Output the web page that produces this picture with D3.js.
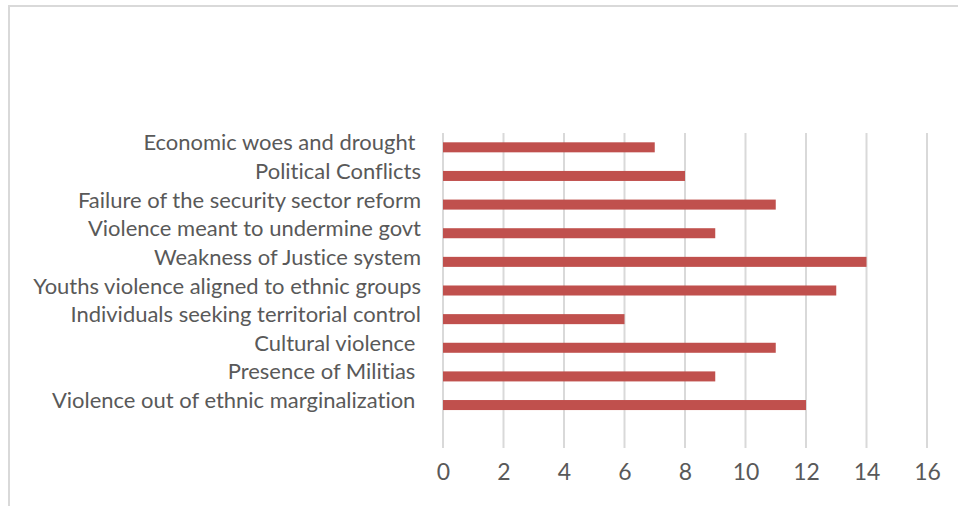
<!DOCTYPE html>
<html><head><meta charset="utf-8">
<script src="https://cdn.jsdelivr.net/npm/d3@7"></script>
<style>html,body{margin:0;padding:0;background:#fff;}svg{display:block;}
text{font-variant-ligatures:none;font-feature-settings:"liga" 0, "clig" 0;}</style>
</head><body>
<svg id="chart" width="958" height="506"></svg>
<script>
const categories = [
  "Economic woes and drought ",
  "Political Conflicts",
  "Failure of the security sector reform",
  "Violence meant to undermine govt",
  "Weakness of Justice system",
  "Youths violence aligned to ethnic groups",
  "Individuals seeking territorial control",
  "Cultural violence ",
  "Presence of Militias ",
  "Violence out of ethnic marginalization "
];
const values = [7, 8, 11, 9, 14, 13, 6, 11, 9, 12];
const tickValues = [0, 2, 4, 6, 8, 10, 12, 14, 16];

const svg = d3.select("#chart");
const W = 958, H = 506;
const font = "Lato, 'Open Sans', sans-serif";
const textColor = "#595959";

// chart border (left/top visible)
svg.append("path").attr("d", `M9,${H} L9,6 L${W},6`)
  .attr("fill", "none").attr("stroke", "#d9d9d9").attr("stroke-width", 2);

const plotLeft = 443, plotRight = 927, plotTop = 133, plotBottom = 448;
const bandStep = (plotBottom - plotTop) / (categories.length + 1);

const x = d3.scaleLinear().domain([0, 16]).range([plotLeft, plotRight]);
const y = d3.scaleBand().domain(categories)
  .range([plotTop, plotTop + bandStep * categories.length])
  .paddingInner(0.65).paddingOuter(0.325);

// gridlines
svg.append("g").selectAll("line").data(tickValues).join("line")
  .attr("x1", d => x(d)).attr("x2", d => x(d))
  .attr("y1", plotTop).attr("y2", plotBottom)
  .attr("stroke", "#d9d9d9").attr("stroke-width", 2);

// bars
svg.append("g").selectAll("rect").data(categories).join("rect")
  .attr("x", x(0)).attr("y", d => y(d))
  .attr("width", (d, i) => x(values[i]) - x(0))
  .attr("height", y.bandwidth())
  .attr("fill", "#c0504d");

// category labels
const labels = svg.append("g").selectAll("text").data(categories).join("text")
  .attr("x", 421)
  .attr("y", d => y(d) + y.bandwidth() / 2 + 3)
  .attr("text-anchor", "end")
  .attr("font-family", font).attr("font-size", 19)
  .attr("fill", textColor)
  .style("white-space", "pre")
  .text(d => d);

// fit font size so that the longest label matches the reference width
let maxW = 0;
labels.each(function() { maxW = Math.max(maxW, this.getComputedTextLength()); });
const fs = 19 * 388 / maxW;
labels.attr("font-size", fs);

// x axis tick labels
const axis = d3.axisBottom(x).tickValues(tickValues).tickSize(0).tickPadding(0);
const axG = svg.append("g").attr("transform", `translate(0,${plotBottom})`).call(axis);
axG.select(".domain").remove();
axG.selectAll("text")
  .attr("y", 32).attr("dy", null)
  .attr("font-family", font).attr("font-size", fs + 1)
  .attr("fill", textColor);
</script>
</body></html>
